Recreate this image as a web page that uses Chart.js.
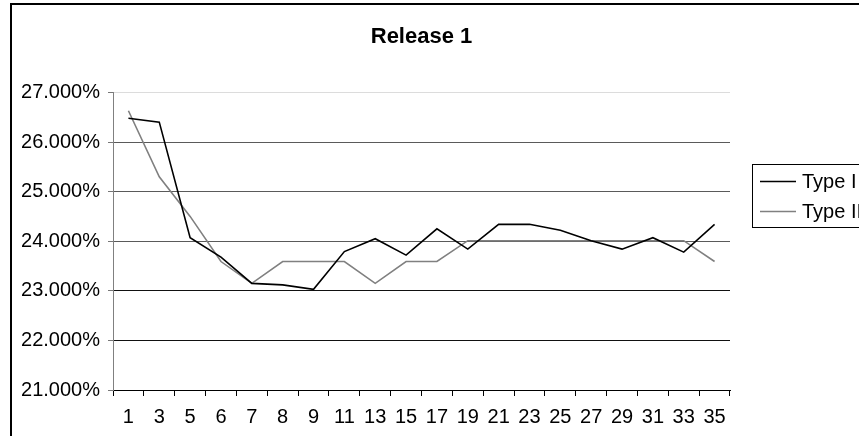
<!DOCTYPE html>
<html>
<head>
<meta charset="utf-8">
<script src="https://cdn.jsdelivr.net/npm/chart.js@4/dist/chart.umd.min.js"></script>
<style>
  html, body { margin: 0; padding: 0; background: #fff; overflow: hidden; }
  canvas { display: block; }
</style>
</head>
<body>
<canvas id="c" width="960" height="470"></canvas>
<script>
// Category labels along the x axis
const categories = ['1','3','5','6','7','8','9','11','13','15','17','19','21','23','25','27','29','31','33','35'];
// Series values, in percent
const typeI  = [26.48, 26.40, 24.07, 23.68, 23.15, 23.12, 23.03, 23.79, 24.05, 23.72,
                24.25, 23.84, 24.34, 24.34, 24.22, 24.01, 23.84, 24.07, 23.78, 24.34];
const typeII = [26.63, 25.30, 24.50, 23.59, 23.15, 23.59, 23.59, 23.59, 23.15, 23.59,
                23.59, 24.01, 24.01, 24.01, 24.01, 24.01, 24.01, 24.01, 24.01, 23.59];
// Value axis range
const yMin = 21, yMax = 27, yStep = 1;

const FONT = '"Liberation Sans", Arial, sans-serif';

// Outer frame and legend box drawn around the chart
const framePlugin = {
  id: 'frame',
  afterDraw(chart) {
    const ctx = chart.ctx;
    ctx.save();
    ctx.strokeStyle = '#000';
    ctx.lineWidth = 2;
    ctx.strokeRect(11, 4, chart.width + 20, chart.height + 20);

    // legend
    const lx = 752.5, ly = 164.5;
    ctx.lineWidth = 1;
    ctx.strokeStyle = '#000';
    ctx.strokeRect(lx, ly, 300, 63);
    ctx.font = '20px ' + FONT;
    ctx.textBaseline = 'middle';
    ctx.textAlign = 'left';
    chart.data.datasets.forEach((ds, i) => {
      const y = 181 + i * 30;
      ctx.strokeStyle = ds.borderColor;
      ctx.lineWidth = 1.5;
      ctx.beginPath();
      ctx.moveTo(760, y + 0.5);
      ctx.lineTo(796, y + 0.5);
      ctx.stroke();
      ctx.fillStyle = '#000';
      ctx.fillText(ds.label, 802, y + 1);
    });
    ctx.restore();
  }
};

function gridColor(ctx) {
  const v = ctx.tick ? ctx.tick.value : null;
  if (v === 27) return '#dcdcdc';
  if (v === 21) return 'rgba(0,0,0,0)';
  if (v === 22 || v === 23) return '#111';
  return '#5a5a5a';
}

new Chart(document.getElementById('c'), {
  type: 'line',
  data: {
    labels: categories,
    datasets: [
      { label: 'Type I',  data: typeI,  borderColor: '#000000', borderWidth: 1.6,
        pointRadius: 0, tension: 0, fill: false },
      { label: 'Type II', data: typeII, borderColor: '#808080', borderWidth: 1.6,
        pointRadius: 0, tension: 0, fill: false }
    ]
  },
  options: {
    responsive: false,
    animation: false,
    devicePixelRatio: 1,
    layout: { padding: { left: 0, right: 230, top: 0, bottom: 0 } },
    plugins: {
      legend: { display: false },
      tooltip: { enabled: false },
      title: {
        display: true,
        fullSize: false,
        text: 'Release 1',
        color: '#000',
        font: { family: FONT, size: 22, weight: 'bold', lineHeight: 1.2 },
        padding: { top: 24, bottom: 42 }
      }
    },
    scales: {
      x: {
        type: 'category',
        offset: true,
        grid: { offset: true, drawOnChartArea: false, drawTicks: true, tickLength: 6,
                color: '#000', lineWidth: 1 },
        border: { display: true, color: '#000', width: 1 },
        ticks: { color: '#000', font: { family: FONT, size: 20 }, padding: 9,
                 maxRotation: 0, autoSkip: false },
        afterFit(scale) { scale.height = 80; }
      },
      y: {
        min: yMin, max: yMax,
        grid: { color: gridColor, lineWidth: 1, drawTicks: true, tickLength: 5,
                tickColor: '#777' },
        border: { display: true, color: '#808080', width: 1 },
        ticks: { stepSize: yStep, color: '#000', font: { family: FONT, size: 20 }, padding: 8,
                 callback: v => v.toFixed(3) + '%' },
        afterFit(scale) { scale.width = 113; }
      }
    }
  },
  plugins: [framePlugin]
});
</script>
</body>
</html>
